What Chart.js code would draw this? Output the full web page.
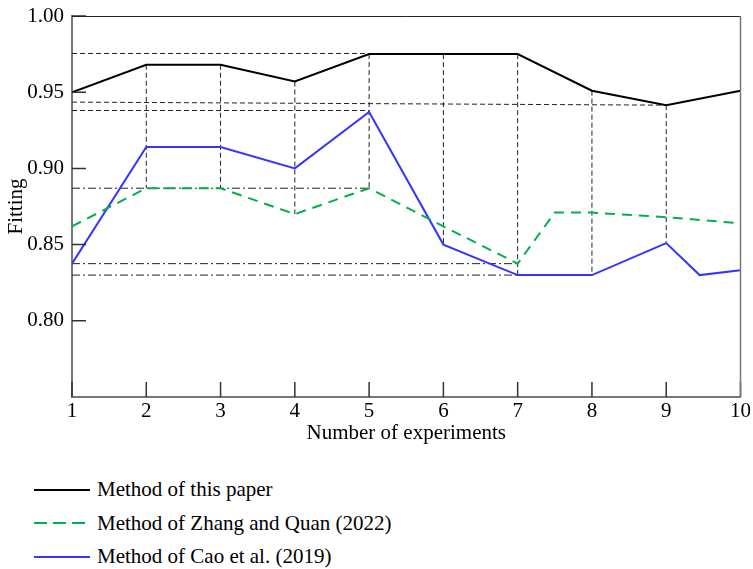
<!DOCTYPE html>
<html>
<head>
<meta charset="utf-8">
<script src="https://cdn.jsdelivr.net/npm/chart.js@4/dist/chart.umd.min.js"></script>
<style>
    body { margin: 0; background: #fff; font-family: 'Liberation Serif', 'Times New Roman', serif; }
    #wrap { position: relative; width: 753px; height: 569px; }
    #chart { position: absolute; left: 0; top: 0; }
    #legend { position: absolute; left: 34px; top: 473px; }
    .legend-item { display: flex; align-items: center; height: 33.5px; font-size: 21px; color: #000; }
    .legend-line { width: 56px; height: 2px; margin-right: 7px; }
</style>
</head>
<body>
<div id="wrap">
    <canvas id="chart" width="753" height="450"></canvas>
    <div id="legend"></div>
</div>
<script>
// Data
const experiments = [1, 2, 3, 4, 5, 6, 7, 8, 9, 10];
const thisPaper = [0.950, 0.968, 0.968, 0.957, 0.975, 0.975, 0.975, 0.951, 0.9415, 0.951];

const zhangX = [1, 2, 3, 4, 5, 6, 7, 7.5, 8, 9, 10];
const zhangQuan = [0.862, 0.887, 0.887, 0.870, 0.887, 0.862, 0.8375, 0.871, 0.871, 0.868, 0.864];

const caoX = [1, 2, 3, 4, 5, 6, 7, 8, 9, 9.45, 10];
const caoEtAl = [0.8375, 0.914, 0.914, 0.900, 0.937, 0.850, 0.830, 0.830, 0.851, 0.830, 0.8332];

const seriesNames = ['Method of this paper', 'Method of Zhang and Quan (2022)', 'Method of Cao et al. (2019)'];
const yTicks = [0.80, 0.85, 0.90, 0.95, 1.00];

// reference lines in the figure: [xFrom, yFrom, xTo, yTo]
const dashedGuides = [[1, 0.9754, 5, 0.9754], [1, 0.9435, 9, 0.9415], [1, 0.938, 5, 0.938]];
const dashDotGuides = [[1, 0.887, 5, 0.887], [1, 0.8375, 7, 0.8375], [1, 0.830, 7, 0.830]];

const FONT = "'Liberation Serif', 'Times New Roman', serif";

function toPoints(xs, ys) {
    return xs.map((x, i) => ({ x: x, y: ys[i] }));
}

function valueAt(xs, ys, x) {
    const i = xs.indexOf(x);
    return i >= 0 ? ys[i] : null;
}

function guideDataset(g, dash) {
    return {
        data: [{ x: g[0], y: g[1] }, { x: g[2], y: g[3] }],
        borderColor: '#222',
        borderWidth: 1,
        borderDash: dash,
        pointRadius: 0,
        order: 2
    };
}

const guides = [];
dashedGuides.forEach(g => guides.push(guideDataset(g, [5, 3])));
dashDotGuides.forEach(g => guides.push(guideDataset(g, [8, 3, 2, 3])));

// vertical drops from this paper's curve down to the lower of the other two
experiments.slice(1).forEach((x, i) => {
    const top = thisPaper[i + 1];
    const bottom = Math.min(valueAt(zhangX, zhangQuan, x), valueAt(caoX, caoEtAl, x));
    guides.push(guideDataset([x, top, x, bottom], [5, 3]));
});

const mainSeries = [
    { label: seriesNames[0], data: toPoints(experiments, thisPaper), borderColor: '#000000', borderDash: [] },
    { label: seriesNames[1], data: toPoints(zhangX, zhangQuan), borderColor: '#00b050', borderDash: [10, 7] },
    { label: seriesNames[2], data: toPoints(caoX, caoEtAl), borderColor: '#3535ff', borderDash: [] }
].map(s => Object.assign(s, { borderWidth: 2, pointRadius: 0, tension: 0, fill: false, order: 0 }));

const frameAndTicks = {
    id: 'frameAndTicks',
    afterDraw(chart) {
        const { ctx, chartArea: a, scales: { x, y } } = chart;
        ctx.save();
        ctx.strokeStyle = '#333';
        ctx.lineWidth = 1.5;
        ctx.beginPath();
        experiments.forEach(v => {
            const px = x.getPixelForValue(v);
            ctx.moveTo(px, a.bottom);
            ctx.lineTo(px, a.bottom - 15);
        });
        yTicks.forEach(v => {
            const py = y.getPixelForValue(v);
            ctx.moveTo(a.left, py);
            ctx.lineTo(a.left + 14, py);
        });
        ctx.stroke();
        // top and right sides of the frame
        ctx.lineWidth = 1;
        ctx.strokeStyle = '#222';
        ctx.beginPath();
        ctx.moveTo(a.left, a.top + 0.5);
        ctx.lineTo(a.right, a.top + 0.5);
        ctx.stroke();
        ctx.lineWidth = 1.5;
        ctx.strokeStyle = '#777';
        ctx.beginPath();
        ctx.moveTo(a.right, a.top);
        ctx.lineTo(a.right, a.bottom);
        ctx.stroke();
        ctx.restore();
    }
};

const chart = new Chart(document.getElementById('chart'), {
    type: 'line',
    data: { datasets: mainSeries.concat(guides) },
    options: {
        responsive: false,
        animation: false,
        layout: { padding: { top: 16, right: 12, left: 0, bottom: 0 } },
        plugins: { legend: { display: false }, tooltip: { enabled: false } },
        scales: {
            x: {
                type: 'linear',
                min: 1,
                max: 10,
                afterFit: s => { s.height = 53; },
                ticks: { stepSize: 1, color: '#000', padding: 2, font: { family: FONT, size: 21 } },
                grid: { drawOnChartArea: false, drawTicks: false },
                border: { color: '#777', width: 2 },
                title: { display: true, text: 'Number of experiments', color: '#000', padding: { top: 0, bottom: 4 }, font: { family: FONT, size: 21 } }
            },
            y: {
                min: 0.75,
                max: 1.0,
                afterFit: s => { s.width = 72; s.paddingTop = 0; s.paddingBottom = 0; },
                afterBuildTicks: s => { s.ticks = [0.75].concat(yTicks).map(v => ({ value: v })); },
                ticks: {
                    color: '#000',
                    padding: 8,
                    font: { family: FONT, size: 21 },
                    callback: v => (v < 0.77 ? '' : v.toFixed(2))
                },
                grid: { drawOnChartArea: false, drawTicks: false },
                border: { color: '#777', width: 2 },
                title: { display: true, text: 'Fitting', color: '#000', padding: { top: 4, bottom: 0 }, font: { family: FONT, size: 21 } }
            }
        }
    },
    plugins: [frameAndTicks]
});

// HTML legend built from the main series
const legend = document.getElementById('legend');
mainSeries.forEach(s => {
    const item = document.createElement('div');
    item.className = 'legend-item';
    const line = document.createElement('div');
    line.className = 'legend-line';
    if (s.borderDash.length) {
        line.style.background = 'repeating-linear-gradient(to right, ' + s.borderColor + ' 0 13px, transparent 13px 19px)';
    } else {
        line.style.background = s.borderColor;
    }
    const text = document.createElement('span');
    text.textContent = s.label;
    item.appendChild(line);
    item.appendChild(text);
    legend.appendChild(item);
});
</script>
</body>
</html>
